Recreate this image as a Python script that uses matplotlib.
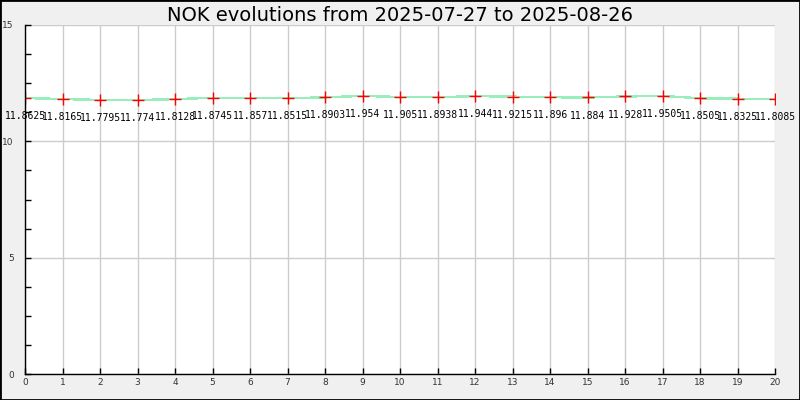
import matplotlib
matplotlib.use("Agg")
import matplotlib.pyplot as plt
from matplotlib.ticker import MultipleLocator

x_days = list(range(21))
rates = [11.8625, 11.8165, 11.7795, 11.774, 11.8128, 11.8745, 11.857, 11.8515,
         11.8903, 11.954, 11.905, 11.8938, 11.944, 11.9215, 11.896, 11.884,
         11.928, 11.9505, 11.8505, 11.8325, 11.8085]
labels = ["11.8625", "11.8165", "11.7795", "11.774", "11.8128", "11.8745", "11.857",
          "11.8515", "11.8903", "11.954", "11.905", "11.8938", "11.944", "11.9215",
          "11.896", "11.884", "11.928", "11.9505", "11.8505", "11.8325", "11.8085"]
title = "NOK evolutions from 2025-07-27 to 2025-08-26"

fig = plt.figure(figsize=(8, 4), dpi=100, facecolor="#f0f0f0")
ax = fig.add_axes([25/800, 26/400, 750/800, 349/400])
ax.set_facecolor("white")

ax.plot(x_days, rates, color="#99eebb", linewidth=1.0, antialiased=False, zorder=2)
ax.plot(x_days, rates, linestyle="none", marker="+", color="red",
        markersize=8, markeredgewidth=1.0, zorder=3)
for xv, yv, lb in zip(x_days, rates, labels):
    ax.annotate(lb, (xv, yv), xytext=(0, -13), textcoords="offset points",
                ha="center", va="center", family="DejaVu Sans Mono",
                fontsize=7, color="black", annotation_clip=False, zorder=4)

ax.set_xlim(0, 20)
ax.set_ylim(0, 15)
ax.xaxis.set_major_locator(MultipleLocator(1))
ax.yaxis.set_major_locator(MultipleLocator(5))
ax.yaxis.set_minor_locator(MultipleLocator(1.25))
ax.grid(True, which="major", color="#cccccc", linewidth=1)
ax.set_axisbelow(True)
for s in ("top", "right"):
    ax.spines[s].set_visible(False)
for s in ("left", "bottom"):
    ax.spines[s].set_color("black")
    ax.spines[s].set_linewidth(1)
    ax.spines[s].set_zorder(5)
ax.tick_params(which="both", direction="in", colors="black", labelcolor="#333333",
               labelsize=6.5, width=1)
ax.tick_params(which="major", length=4)
ax.tick_params(which="minor", length=4)
ax.tick_params(axis="y", pad=8)
ax.tick_params(axis="x", pad=3)

fig.suptitle(title, x=0.5, y=0.985, va="top", fontsize=14, color="black")

border = plt.Rectangle((0, 0), 1, 1, transform=fig.transFigure, fill=False,
                       edgecolor="black", linewidth=2)
fig.patches.append(border)

fig.savefig("out.png", dpi=100, facecolor=fig.get_facecolor())
